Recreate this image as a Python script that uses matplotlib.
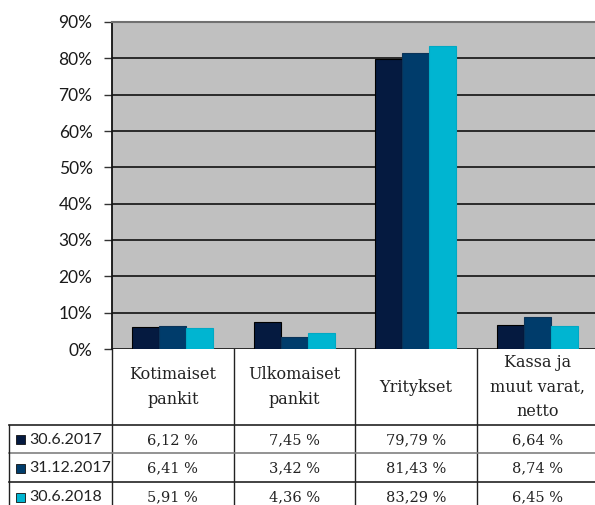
import matplotlib.pyplot as plt
from matplotlib.transforms import blended_transform_factory
from matplotlib.lines import Line2D
from matplotlib.patches import Rectangle

categories = ["Kotimaiset\npankit", "Ulkomaiset\npankit", "Yritykset", "Kassa ja\nmuut varat,\nnetto"]
series_names = ["30.6.2017", "31.12.2017", "30.6.2018"]
values_2017_06 = [6.12, 7.45, 79.79, 6.64]
values_2017_12 = [6.41, 3.42, 81.43, 8.74]
values_2018_06 = [5.91, 4.36, 83.29, 6.45]
yticks = [0, 10, 20, 30, 40, 50, 60, 70, 80, 90]

series = [values_2017_06, values_2017_12, values_2018_06]
colors = ["#051a40", "#003c6b", "#00b5d1"]
edges = ["#000000", "#0a3358", "#00a9c4"]

W, H = 595, 505
fig = plt.figure(figsize=(W / 100, H / 100), dpi=100)
left, right, top, bottom = 112, 598, 22, 349
ax = fig.add_axes([left / W, 1 - bottom / H, (right - left) / W, (bottom - top) / H])
ax.set_facecolor("#c0c0c0")

n = len(categories)
bw = 0.222
for i, vals in enumerate(series):
    xs = [c + (i - 1) * bw for c in range(n)]
    ax.bar(xs, vals, width=bw, color=colors[i], edgecolor=edges[i], linewidth=0.8, zorder=3)

ax.set_xlim(-0.5, n - 0.5)
ax.set_ylim(0, 90)
ax.set_yticks(yticks)
ax.set_yticklabels([f"{t}%" for t in yticks], family="Lato", fontsize=12.5, color="#1a1a1a")
ax.tick_params(axis="y", length=6, width=1, color="#333333", pad=8)
ax.set_xticks([])
ax.yaxis.grid(True, color="#111111", linewidth=1.2, zorder=1)
ax.set_axisbelow(True)
for s in ["right", "bottom"]:
    ax.spines[s].set_visible(False)
ax.spines["top"].set_color("#707070")
ax.spines["top"].set_linewidth(1.5)
ax.spines["left"].set_color("#111111")
ax.spines["left"].set_linewidth(1.3)

# data table under the chart
tr = blended_transform_factory(ax.transData, ax.transAxes)
ph = bottom - top
def yf(py):
    return -(py - bottom) / ph

row_lines = [425, 453, 482, 510]
# vertical separators
for b in [x - 0.5 for x in range(n + 1)]:
    ax.add_line(Line2D([b, b], [yf(349), yf(510)], transform=tr, color="#222222",
                       linewidth=1.0, clip_on=False))
# horizontal lines spanning legend column too
x_leg = -0.5 - (left - 9) / ((right - left) / n)
for k, py in enumerate(row_lines[:-1]):
    col = "#222222" if k % 2 == 0 else "#808080"
    ax.add_line(Line2D([x_leg, n - 0.5], [yf(py), yf(py)], transform=tr, color=col,
                       linewidth=1.2, clip_on=False))
ax.add_line(Line2D([x_leg, x_leg], [yf(425), yf(510)], transform=tr, color="#222222",
                   linewidth=1.0, clip_on=False))

serif = "DejaVu Serif"
for c, name in enumerate(categories):
    ax.text(c, yf(387), name, transform=tr, ha="center", va="center", family=serif,
            fontsize=11.5, color="#222222", linespacing=1.6, clip_on=False)

unit = (right - left) / n
for i, vals in enumerate(series):
    yc = yf((row_lines[i] + row_lines[i + 1]) / 2 + 1)
    for c, v in enumerate(vals):
        ax.text(c, yc, f"{v:.2f} %".replace(".", ","), transform=tr, ha="center",
                va="center", family=serif, fontsize=10.5, color="#222222", clip_on=False)
    sx = -0.5 - (left - 16) / unit
    sq = 9 / unit
    ax.add_patch(Rectangle((sx, yc - 4.5 / ph), sq, 9 / ph, transform=tr, facecolor=colors[i],
                           edgecolor="#111111", linewidth=0.6, clip_on=False))
    ax.text(-0.5 - (left - 29) / unit, yc, series_names[i], transform=tr, ha="left",
            va="center", family="Lato", fontsize=11.5, color="#222222", clip_on=False)

fig.savefig("out.png", dpi=100)
